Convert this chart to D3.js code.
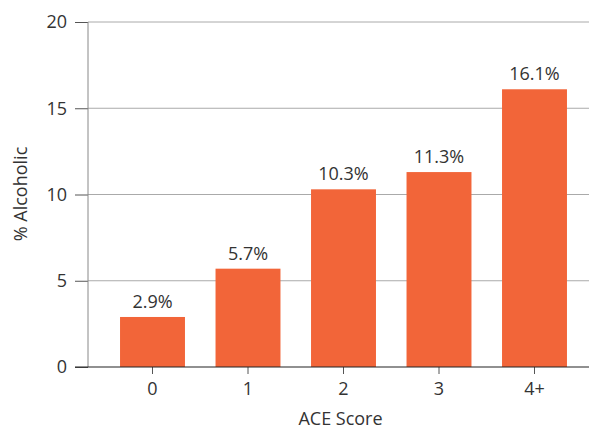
<!DOCTYPE html>
<html>
<head>
<meta charset="utf-8">
<script src="https://cdn.jsdelivr.net/npm/d3@7"></script>
<style>
  html, body { margin: 0; padding: 0; background: #fff; }
  svg { display: block; font-family: "Open Sans", "Noto Sans", sans-serif; }
</style>
</head>
<body>
<svg id="chart" width="589" height="429"></svg>
<script>
// ACE score groups and the share of each group that is alcoholic (%)
const categories = ["0", "1", "2", "3", "4+"];
const values = [2.9, 5.7, 10.3, 11.3, 16.1];
const yTicks = [0, 5, 10, 15, 20];
const xTitle = "ACE Score";
const yTitle = "% Alcoholic";

const svg = d3.select("#chart");
const plotLeft = 88, plotRight = 589, plotTop = 22, plotBottom = 367;
const textColor = "#333";
const barColor = "#F26539";

const x = d3.scaleBand()
  .domain(categories)
  .range([104.75, 582.25])
  .paddingInner(0.32)
  .paddingOuter(0.16);

const y = d3.scaleLinear().domain([0, 20]).range([plotBottom, plotTop]);

// horizontal gridlines with short ticks reaching left of the axis
const yAxis = svg.append("g")
  .attr("transform", `translate(${plotLeft},0)`)
  .call(d3.axisLeft(y).tickValues(yTicks).tickSize(13).tickPadding(8));
yAxis.select(".domain").remove();
yAxis.selectAll(".tick line").attr("stroke", "#555");
yAxis.selectAll(".tick text")
  .attr("fill", textColor).attr("font-size", 18)
  .attr("font-family", "Open Sans");

svg.append("g")
  .selectAll("line")
  .data(yTicks.filter(d => d > 0))
  .join("line")
  .attr("x1", plotLeft).attr("x2", plotRight)
  .attr("y1", d => y(d)).attr("y2", d => y(d))
  .attr("stroke", "#aaa").attr("stroke-width", 1);

// vertical axis line
svg.append("line")
  .attr("x1", plotLeft).attr("x2", plotLeft)
  .attr("y1", plotTop).attr("y2", plotBottom)
  .attr("stroke", "#888").attr("stroke-width", 1);

// bars
svg.append("g")
  .selectAll("rect")
  .data(values)
  .join("rect")
  .attr("x", (d, i) => x(categories[i]))
  .attr("width", x.bandwidth())
  .attr("y", d => y(d))
  .attr("height", d => y(0) - y(d))
  .attr("fill", barColor);

// value labels above the bars
svg.append("g")
  .selectAll("text")
  .data(values)
  .join("text")
  .attr("x", (d, i) => x(categories[i]) + x.bandwidth() / 2)
  .attr("y", d => y(d) - 9)
  .attr("text-anchor", "middle")
  .attr("fill", textColor)
  .attr("font-size", 18)
  .text(d => d.toFixed(1) + "%");

// category axis
const xAxis = svg.append("g")
  .attr("transform", `translate(0,${plotBottom})`)
  .call(d3.axisBottom(x).tickSize(7).tickPadding(8).tickSizeOuter(0));
xAxis.select(".domain").remove();
xAxis.selectAll(".tick line").attr("stroke", "#555");
xAxis.selectAll(".tick text")
  .attr("fill", textColor).attr("font-size", 18)
  .attr("font-family", "Open Sans");

svg.append("line")
  .attr("x1", 75).attr("x2", plotRight)
  .attr("y1", plotBottom).attr("y2", plotBottom)
  .attr("stroke", "#222").attr("stroke-width", 1.2);

// axis titles
svg.append("text")
  .attr("x", (plotLeft + plotRight) / 2 + 2)
  .attr("y", 425)
  .attr("text-anchor", "middle")
  .attr("fill", textColor)
  .attr("font-size", 18)
  .text(xTitle);

svg.append("text")
  .attr("transform", `translate(27,194) rotate(-90)`)
  .attr("text-anchor", "middle")
  .attr("fill", textColor)
  .attr("font-size", 18)
  .text(yTitle);
</script>
</body>
</html>
